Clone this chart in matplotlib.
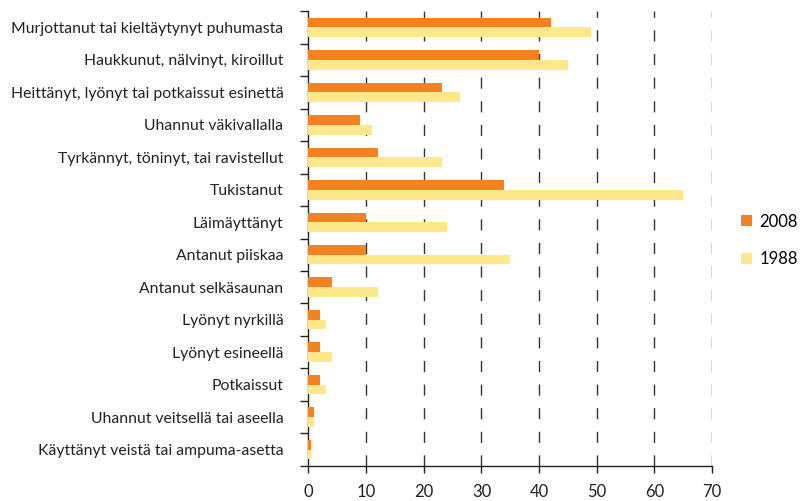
import numpy as np
import matplotlib.pyplot as plt
from matplotlib.patches import Patch

# Data (percent)
labels = ['Murjottanut tai kieltäytynyt puhumasta',
          'Haukkunut, nälvinyt, kiroillut',
          'Heittänyt, lyönyt tai potkaissut esinettä',
          'Uhannut väkivallalla',
          'Tyrkännyt, töninyt, tai ravistellut',
          'Tukistanut',
          'Läimäyttänyt',
          'Antanut piiskaa',
          'Antanut selkäsaunan',
          'Lyönyt nyrkillä',
          'Lyönyt esineellä',
          'Potkaissut',
          'Uhannut veitsellä tai aseella',
          'Käyttänyt veistä tai ampuma-asetta']
vals_2008 = [42, 40, 23.2, 9, 12, 34, 10, 10, 4, 2, 2, 2, 1, 0.5]
vals_1988 = [49, 45, 26.2, 11, 23.2, 65, 24, 35, 12, 3, 4, 3, 1, 0.5]
xticks = [0, 10, 20, 30, 40, 50, 60, 70]

c2008 = '#F58220'
c1988 = '#FEE88C'

plt.rcParams['font.family'] = ['Lato', 'DejaVu Sans']

fig = plt.figure(figsize=(8, 5.01), dpi=100)
ax = fig.add_axes([0.3856, 0.0699, 0.5044, 0.9081])

n = len(labels)
y = np.arange(n)
h = 0.3
ax.barh(y - h / 2, vals_2008, height=h, color=c2008, zorder=3)
ax.barh(y + h / 2, vals_1988, height=h, color=c1988, zorder=3)

ax.set_ylim(n - 0.5, -0.5)
ax.set_xlim(0, 70)
ax.set_yticks(y)
ax.set_yticklabels(labels, fontsize=11.3, color='#222222')
ax.tick_params(axis='y', which='major', length=0, pad=18)
ax.set_yticks(np.arange(-0.5, n, 1), minor=True)
ax.tick_params(axis='y', which='minor', length=6, width=1, color='#222222')

ax.set_xticks(xticks)
ax.set_xticklabels([str(v) for v in xticks], fontsize=12, color='#222222')
ax.tick_params(axis='x', length=5, width=1, color='#222222', pad=8)

for v in xticks[1:]:
    ax.axvline(v, color='#333333', linewidth=1, linestyle=(0, (8, 9)), zorder=1)

for s in ['top', 'right']:
    ax.spines[s].set_visible(False)
for s in ['left', 'bottom']:
    ax.spines[s].set_color('#222222')
    ax.spines[s].set_linewidth(1)

handles = [Patch(facecolor=c2008, label='2008'), Patch(facecolor=c1988, label='1988')]
fig.legend(handles=handles, loc='center left', bbox_to_anchor=(0.926, 0.52), frameon=False,
           fontsize=12, handlelength=0.65, handleheight=0.65, labelspacing=1.3, handletextpad=0.45,
           borderpad=0, borderaxespad=0)

fig.savefig('out.png', dpi=100)
